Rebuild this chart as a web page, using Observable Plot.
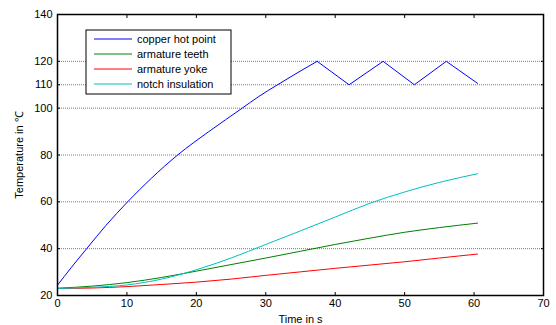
<!DOCTYPE html>
<html>
<head>
<meta charset="utf-8">
<script src="https://cdn.jsdelivr.net/npm/d3@7"></script>
<script src="https://cdn.jsdelivr.net/npm/@observablehq/plot@0.6"></script>
<style>
  body { margin: 0; background: #fff; }
  #chart { position: relative; width: 556px; height: 325px; }
</style>
</head>
<body>
<div id="chart"></div>
<script>
// ---- data ----
const seriesNames = ["copper hot point", "armature teeth", "armature yoke", "notch insulation"];
const seriesColors = ["#0000ff", "#008000", "#ff0000", "#00bfbf"];

// copper hot point: smooth heating phase, then on/off regulation between 110 and 120
const copperRiseTime = [0, 2, 4.2, 7, 10.1, 13.5, 17.3, 21.8, 26.6, 29, 31.7, 34.5, 37.4];
const copperRiseTemp = [24.4, 32, 40, 50, 60, 70, 80, 90, 100, 105, 110, 115, 120];
const copperCycleTime = [37.4, 42.0, 46.9, 51.4, 56.0, 60.5];
const copperCycleTemp = [120, 110, 120, 110, 120, 110.6];

const slowTime = [0, 5, 10, 15, 20, 25, 30, 35, 40, 45, 50, 55, 60.5];
const teethTemp = [23.1, 24.0, 25.5, 27.7, 30.4, 33.2, 36.0, 38.9, 41.8, 44.5, 47.0, 49.0, 50.9];
const yokeTemp = [23.0, 23.2, 23.8, 24.7, 25.7, 27.0, 28.6, 30.1, 31.6, 33.0, 34.4, 36.0, 37.7];
const notchTemp = [23.0, 23.5, 24.5, 27.0, 31.0, 36.0, 41.8, 47.6, 53.5, 59.4, 64.2, 68.3, 72.0];

const xTicks = [0, 10, 20, 30, 40, 50, 60, 70];
const yTicks = [20, 40, 60, 80, 100, 110, 120, 140];
const gridTicks = [40, 60, 80, 100, 110, 120];

const smoothSeries = [
  {name: seriesNames[0], t: copperRiseTime, v: copperRiseTemp},
  {name: seriesNames[1], t: slowTime, v: teethTemp},
  {name: seriesNames[2], t: slowTime, v: yokeTemp},
  {name: seriesNames[3], t: slowTime, v: notchTemp}
];
const smoothRows = smoothSeries.flatMap(s => s.t.map((t, i) => ({series: s.name, t, v: s.v[i]})));
const cycleRows = copperCycleTime.map((t, i) => ({series: seriesNames[0], t, v: copperCycleTemp[i]}));

const chart = Plot.plot({
  width: 556,
  height: 325,
  marginLeft: 57,
  marginRight: 13,
  marginTop: 14,
  marginBottom: 30,
  style: {fontFamily: "'Liberation Sans', Arial, sans-serif", fontSize: "11px", color: "#000", background: "#fff"},
  x: {domain: [0, 70], axis: null},
  y: {domain: [20, 140], axis: null},
  color: {domain: seriesNames, range: seriesColors},
  marks: [
    Plot.gridY(gridTicks, {stroke: "#7a7a7a", strokeOpacity: 1, strokeDasharray: "1,1", strokeWidth: 1}),
    Plot.line(smoothRows, {x: "t", y: "v", z: "series", stroke: "series", strokeWidth: 1, curve: "monotone-x"}),
    Plot.line(cycleRows, {x: "t", y: "v", stroke: "series", strokeWidth: 1}),
    Plot.frame({stroke: "#000", strokeWidth: 1.5}),
    Plot.axisX(xTicks, {anchor: "bottom", tickSize: -3, tickPadding: 7, label: "Time in s", labelAnchor: "center", labelArrow: "none"}),
    Plot.axisX(xTicks, {anchor: "top", tickSize: -3, tickFormat: () => "", label: null}),
    Plot.axisY(yTicks, {anchor: "left", tickSize: -3, tickPadding: 8, label: "Temperature in ℃", labelAnchor: "center", labelOffset: 42, labelArrow: "none"}),
    Plot.axisY(yTicks, {anchor: "right", tickSize: -3, tickFormat: () => "", label: null})
  ]
});
document.getElementById("chart").appendChild(chart);

// ---- legend box (top-left inside the plot) ----
const svg = d3.select(chart);
const lg = svg.append("g").attr("class", "legend");
lg.append("rect")
  .attr("x", 86).attr("y", 30).attr("width", 145).attr("height", 64)
  .attr("fill", "#fff").attr("stroke", "#000").attr("stroke-width", 1);
seriesNames.forEach((name, i) => {
  const y = 39 + i * 15;
  lg.append("line")
    .attr("x1", 94).attr("x2", 132).attr("y1", y).attr("y2", y)
    .attr("stroke", seriesColors[i]).attr("stroke-width", 1);
  lg.append("text")
    .attr("x", 137).attr("y", y).attr("dy", "0.35em")
    .attr("text-anchor", "start")
    .attr("font-size", 11)
    .attr("fill", "#000")
    .text(name);
});
</script>
</body>
</html>
